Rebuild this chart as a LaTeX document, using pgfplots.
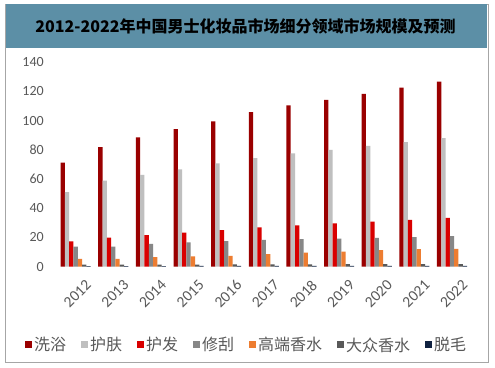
\documentclass[border=0pt]{standalone}
\usepackage{fontspec}
\setmainfont{Carlito}
\newfontfamily\cjk{Noto Sans CJK SC}
\usepackage{pgfplots}
\pgfplotsset{compat=1.18}
\definecolor{cA}{HTML}{9A0000}
\definecolor{cB}{HTML}{BFBFBF}
\definecolor{cC}{HTML}{D90000}
\definecolor{cD}{HTML}{878787}
\definecolor{cE}{HTML}{ED7D31}
\definecolor{cF}{HTML}{595959}
\definecolor{cG}{HTML}{0F2140}
\definecolor{tickgray}{HTML}{595959}
\definecolor{framegray}{HTML}{A6A6A6}
\definecolor{titlebar}{HTML}{5C8FA6}
\begin{document}
\begin{tikzpicture}[x=1pt,y=1pt]
\path[use as bounding box] (0,0) rectangle (495,367);
\fill[white] (0,0) rectangle (495,367);
\draw[framegray, line width=0.8pt] (5.5,5) rectangle (488,363);
\fill[titlebar] (5.5,319) rectangle (487,363);
\node[font=\cjk\bfseries\fontsize{16}{18}\selectfont, text=black] at (245.5,341) {2012-2022年中国男士化妆品市场细分领域市场规模及预测};
\begin{axis}[
  at={(49.3pt,100.3pt)}, anchor=south west,
  scale only axis, width=425.3pt, height=204.4pt,
  xmin=-0.7, xmax=10.6, ymin=0, ymax=140,
  ybar=0pt, bar width=4.3pt,
  axis line style={draw=none}, major tick length=0pt,
  xtick={0,...,10},
  xticklabels={2012,2013,2014,2015,2016,2017,2018,2019,2020,2021,2022},
  ytick={0,20,...,140},
  /pgf/number format/assume math mode=true,
  yticklabel style={font=\fontsize{14}{14}\selectfont, text=tickgray, xshift=-2pt},
  xticklabel style={font=\fontsize{15.5}{15.5}\selectfont, text=tickgray, rotate=45, anchor=north east, yshift=-14pt, xshift=-1pt, inner sep=1pt},
  legend columns=7,
  legend style={draw=none, fill=none, at={(-0.0571,-0.383)}, anchor=west,
    font=\cjk\fontsize{16}{16}\selectfont, text=tickgray, inner sep=0pt,
    /tikz/every even column/.append style={column sep=13pt}},
  legend image code/.code={\fill[#1,draw=none] (0pt,-3.5pt) rectangle (7pt,3.5pt);},
]
\addplot[fill=cA, draw=none] coordinates {(0,71.2) (1,81.9) (2,88.6) (3,94.3) (4,99.5) (5,105.9) (6,110.5) (7,114.2) (8,118.3) (9,122.6) (10,126.7)};
\addplot[fill=cB, draw=none] coordinates {(0,51.1) (1,58.9) (2,62.9) (3,66.7) (4,70.8) (5,74.4) (6,77.6) (7,80.0) (8,82.7) (9,85.4) (10,88.0)};
\addplot[fill=cC, draw=none] coordinates {(0,17.3) (1,19.9) (2,21.6) (3,23.4) (4,25.0) (5,26.9) (6,28.3) (7,29.6) (8,30.8) (9,32.1) (10,33.5)};
\addplot[fill=cD, draw=none] coordinates {(0,13.7) (1,13.8) (2,15.7) (3,16.6) (4,17.5) (5,18.3) (6,18.9) (7,19.3) (8,19.7) (9,20.2) (10,20.9)};
\addplot[fill=cE, draw=none] coordinates {(0,5.3) (1,5.4) (2,6.6) (3,7.0) (4,7.5) (5,8.6) (6,9.6) (7,10.3) (8,11.3) (9,12.0) (10,12.2)};
\addplot[fill=cF, draw=none] coordinates {(0,1.4) (1,1.4) (2,1.5) (3,1.5) (4,1.6) (5,1.6) (6,1.6) (7,1.7) (8,1.7) (9,1.7) (10,1.8)};
\addplot[fill=cG, draw=none] coordinates {(0,0.4) (1,0.4) (2,0.4) (3,0.5) (4,0.5) (5,0.5) (6,0.5) (7,0.5) (8,0.6) (9,0.6) (10,0.6)};
\legend{洗浴,护肤,护发,修刮,高端香水,大众香水,脱毛}
\end{axis}
\end{tikzpicture}
\end{document}
